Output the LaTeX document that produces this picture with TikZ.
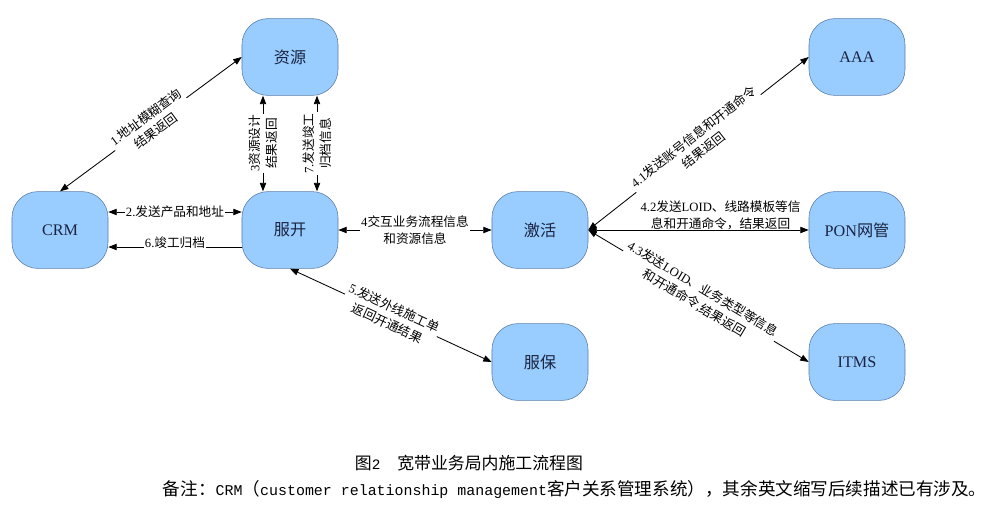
\documentclass[tikz,border=0pt]{standalone}
\usepackage{fontspec}
\setmainfont{Noto Sans CJK SC}
\newfontfamily\en{Liberation Serif}
\newfontfamily\enmono{Liberation Mono}[Scale=0.85]
\usetikzlibrary{arrows.meta}
\definecolor{boxfill}{HTML}{99CCFF}
\definecolor{boxline}{HTML}{5B7DA8}
\definecolor{boxtext}{HTML}{1A2440}
\tikzset{
  sysbox/.style={draw=boxline, fill=boxfill, rounded corners=0.65cm,
    minimum width=2.4cm, minimum height=1.92cm, text=boxtext,
    font=\fontsize{11.5}{14}\selectfont},
  lab/.style={fill=white, inner sep=1pt, align=center,
    font=\fontsize{9}{12}\selectfont},
  twoway/.style={{Triangle[length=6pt,width=4.5pt]}-{Triangle[length=6pt,width=4.5pt]}, line width=0.6pt},
  oneway/.style={-{Triangle[length=6pt,width=4.5pt]}, line width=0.6pt}
}
\begin{document}
\begin{tikzpicture}[x=0.025cm, y=-0.025cm]
  \useasboundingbox (0,0) rectangle (1004,515);
  \draw
    (290,57) node[sysbox] (zy){资源}
    (60,230) node[sysbox] (crm){\en CRM}
    (290,230) node[sysbox] (fk){服开}
    (540,230) node[sysbox] (jh){激活}
    (540,362) node[sysbox] (fb){服保}
    (857,57) node[sysbox] (aaa){\en AAA}
    (857,230) node[sysbox] (pon){{\en PON}网管}
    (857,362) node[sysbox] (itms){\en ITMS};
  \begin{scope}[twoway]
    \draw (crm.north) -- node[lab, sloped] {{\en 1.}地址模糊查询\\结果返回} (zy.west);
    \draw ([yshift=0.45cm]crm.east) -- node[lab] {{\en 2.}发送产品和地址} ([yshift=0.45cm]fk.west);
    \draw ([xshift=-0.675cm]fk.north) -- node[lab, rotate=90] {{\en 3}资源设计\\结果返回} ([xshift=-0.675cm]zy.south);
    \draw ([xshift=0.675cm]fk.north) -- node[lab, rotate=90] {{\en 7.}发送竣工\\归档信息} ([xshift=0.675cm]zy.south);
    \draw (fk.east) -- node[lab] {{\en 4}交互业务流程信息\\和资源信息} (jh.west);
    \draw (fk.south) -- node[lab, sloped] {{\en 5.}发送外线施工单\\返回开通结果} (fb.west);
    \draw (jh.east) -- node[lab, sloped] {{\en 4.1}发送账号信息和开通命令\\结果返回} (aaa.west);
    \draw (jh.east) -- node[lab, fill=none, pos=0.6, above=-1pt] {{\en 4.2}发送{\en LOID}、线路模板等信\\息和开通命令，结果返回} (pon.west);
    \draw (jh.east) -- node[lab, sloped] {{\en 4.3}发送{\en LOID}、业务类型等信息\\和开通命令{\en ,}结果返回} (itms.west);
  \end{scope}
  \draw[oneway] ([yshift=-0.425cm]fk.west) -- node[lab, yshift=3pt] {{\en 6.}竣工归档} ([yshift=-0.425cm]crm.east);
  \node[anchor=west, font=\fontsize{12}{14}\selectfont] (cap) at (350,463) {图{\enmono 2}　宽带业务局内施工流程图};
  \node[anchor=west, font=\fontsize{12.5}{14}\selectfont] (note) at (158,490)
    {备注：{\enmono CRM}（{\enmono customer relationship management}客户关系管理系统），其余英文缩写后续描述已有涉及。};
\end{tikzpicture}
\end{document}
